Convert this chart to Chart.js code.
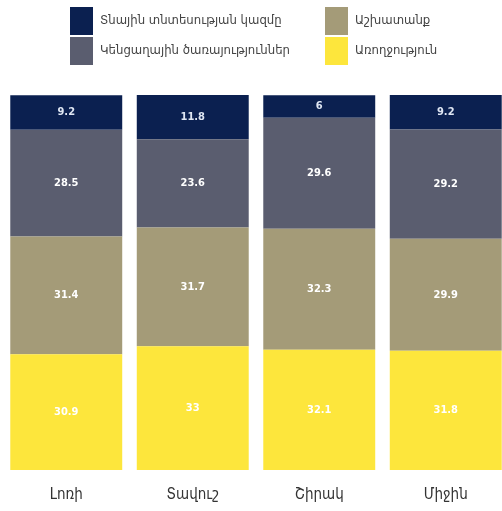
<!DOCTYPE html>
<html>
<head>
<meta charset="utf-8">
<script src="https://cdn.jsdelivr.net/npm/chart.js@4"></script>
<style>
  html, body { margin: 0; padding: 0; background: #fff; overflow: hidden; }
  #wrap { width: 502px; height: 511px; overflow: hidden; }
</style>
</head>
<body>
<div id="wrap"><canvas id="chart" width="510" height="511" style="width:510px;height:511px"></canvas></div>
<script>
const regions = ['Լոռի', 'Տավուշ', 'Շիրակ', 'Միջին'];

// from bottom of the stack to top
const health = [30.9, 33, 32.1, 31.8];
const work = [31.4, 31.7, 32.3, 29.9];
const services = [28.5, 23.6, 29.6, 29.2];
const household = [9.2, 11.8, 6, 9.2];

const seriesNames = ['Առողջություն', 'Աշխատանք', 'Կենցաղային ծառայություններ', 'Տնային տնտեսության կազմը'];
const seriesColors = ['#fde63c', '#a49b78', '#5a5d6f', '#0b2050'];

// legend grid order (row by row)
const legendOrder = [3, 1, 2, 0];

const labelFont = '600 11px "DejaVu Sans Condensed", "DejaVu Sans", sans-serif';

const barLabels = {
  id: 'barLabels',
  afterDatasetsDraw(chart) {
    const ctx = chart.ctx;
    ctx.save();
    ctx.font = labelFont;
    ctx.textAlign = 'center';
    ctx.textBaseline = 'middle';
    chart.data.datasets.forEach((ds, i) => {
      const meta = chart.getDatasetMeta(i);
      meta.data.forEach((bar, j) => {
        const mid = (bar.y + bar.base) / 2;
        ctx.fillStyle = i === 3 ? '#dfe6f3' : '#ffffff';
        ctx.fillText(String(ds.data[j]), bar.x, mid);
      });
    });
    ctx.restore();
  }
};

const gridLegend = {
  id: 'gridLegend',
  afterDraw(chart) {
    const ctx = chart.ctx;
    ctx.save();
    ctx.font = '13px "DejaVu Sans Condensed", "DejaVu Sans", sans-serif';
    ctx.textBaseline = 'middle';
    ctx.textAlign = 'left';
    const colX = [70, 325];
    const rowY = [7, 37];
    legendOrder.forEach((k, n) => {
      const col = n % 2, row = Math.floor(n / 2);
      const x = colX[col], y = rowY[row];
      ctx.fillStyle = seriesColors[k];
      ctx.fillRect(x, y, 23, 28);
      ctx.fillStyle = '#444';
      ctx.fillText(seriesNames[k], x + 30, y + 14);
    });
    ctx.restore();
  }
};

new Chart(document.getElementById('chart'), {
  type: 'bar',
  data: {
    labels: regions,
    datasets: [health, work, services, household].map((d, i) => ({
      label: seriesNames[i],
      data: d,
      backgroundColor: seriesColors[i],
      borderWidth: 0,
      categoryPercentage: 1,
      barPercentage: 0.885
    }))
  },
  options: {
    responsive: false,
    animation: false,
    layout: { padding: { top: 95, left: 3, right: 1, bottom: 0 } },
    plugins: {
      legend: { display: false },
      tooltip: { enabled: false }
    },
    scales: {
      x: {
        stacked: true,
        grid: { display: false, drawTicks: false },
        border: { display: false },
        afterFit: (s) => { s.height = 41; },
        ticks: {
          color: '#333',
          padding: 16,
          maxRotation: 0,
          font: { family: '"DejaVu Sans Condensed", "DejaVu Sans", sans-serif', size: 15 }
        }
      },
      y: {
        stacked: true,
        display: false,
        min: 0,
        max: 100.1
      }
    }
  },
  plugins: [barLabels, gridLegend]
});
</script>
</body>
</html>
